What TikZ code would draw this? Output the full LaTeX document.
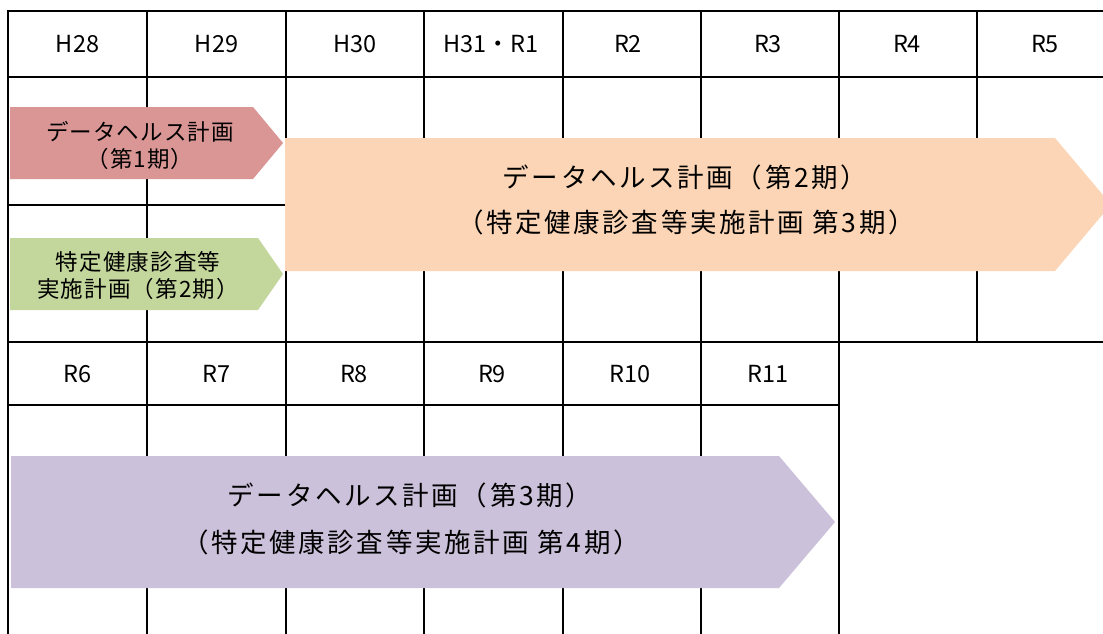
\documentclass[tikz,border=0pt]{standalone}
\usepackage{fontspec}
\setmainfont{Noto Sans CJK JP}
\newfontfamily\bigjp[LetterSpace=10]{Noto Sans CJK JP}
\newfontfamily\smalljp[LetterSpace=5]{Noto Sans CJK JP}
\definecolor{pinkA}{HTML}{D99694}
\definecolor{greenA}{HTML}{C3D69B}
\definecolor{orangeA}{HTML}{FBD5B5}
\definecolor{lavA}{HTML}{CCC1DA}
\tikzset{
  gridline/.style={line width=2pt, black},
  headtxt/.style={font=\fontsize{23.5}{27}\selectfont, inner sep=0pt},
  smalltxt/.style={font=\smalljp\fontsize{22.5}{27}\selectfont, align=center, inner sep=0pt},
  bigtxt/.style={font=\bigjp\fontsize{26.5}{30}\selectfont, inner sep=0pt},
}
\begin{document}
\begin{tikzpicture}[x=1pt,y=-1pt]
\useasboundingbox (0,0) rectangle (1103,634);
\clip (0,0) rectangle (1103,634);
\fill[white] (0,0) rectangle (1103,634);
% ---- top block grid
\foreach \yy in {11,77,342} \draw[gridline] (8,\yy) -- (1120,\yy);
\draw[gridline] (8,205) -- (286,205);
\foreach \xx in {147,286,424,563,701,839,977} \draw[gridline] (\xx,10) -- (\xx,343);
% ---- bottom block grid
\draw[gridline] (8,405) -- (839,405);
\draw[gridline] (8,10) -- (8,640);
\foreach \xx in {147,286,424,563,701,839} \draw[gridline] (\xx,342) -- (\xx,640);
% ---- header labels
\node[headtxt] (h28) at (77.5,44) {H28};
\node[headtxt] (h29) at (216.5,44) {H29};
\node[headtxt] (h30) at (355,44) {H30};
\node[headtxt] (h31) at (491,44) {H31・R1};
\node[headtxt] (r2) at (628,44) {R2};
\node[headtxt] (r3) at (768,44) {R3};
\node[headtxt] (r4) at (907,44) {R4};
\node[headtxt] (r5) at (1045,44) {R5};
\node[headtxt] (r6) at (77.5,374) {R6};
\node[headtxt] (r7) at (216.5,374) {R7};
\node[headtxt] (r8) at (354,374) {R8};
\node[headtxt] (r9) at (492,374) {R9};
\node[headtxt] (r10) at (630,374) {R10};
\node[headtxt] (r11) at (768,374) {R11};
% ---- arrows
\fill[pinkA] (10,107) -- (253,107) -- (283,143) -- (253,179) -- (10,179) -- cycle;
\fill[greenA] (10,238) -- (258,238) -- (283,274) -- (258,310) -- (10,310) -- cycle;
\fill[orangeA] (285,138) -- (1055,138) -- (1111,204.5) -- (1055,271) -- (285,271) -- cycle;
\fill[lavA] (11,456) -- (779,456) -- (835,522) -- (779,588) -- (11,588) -- cycle;
% ---- arrow labels
\node[smalltxt] (p1) at (140,145) {データヘルス計画\\（第1期）};
\node[smalltxt] (g1) at (138,276) {特定健康診査等\\実施計画（第2期）};
\node[bigtxt] (o1) at (685,177) {データヘルス計画（第2期）};
\node[bigtxt] (o2) at (686,222) {（特定健康診査等実施計画 第3期）};
\node[bigtxt] (l1) at (410,495) {データヘルス計画（第3期）};
\node[bigtxt] (l2) at (411,542) {（特定健康診査等実施計画 第4期）};
\end{tikzpicture}
\end{document}
